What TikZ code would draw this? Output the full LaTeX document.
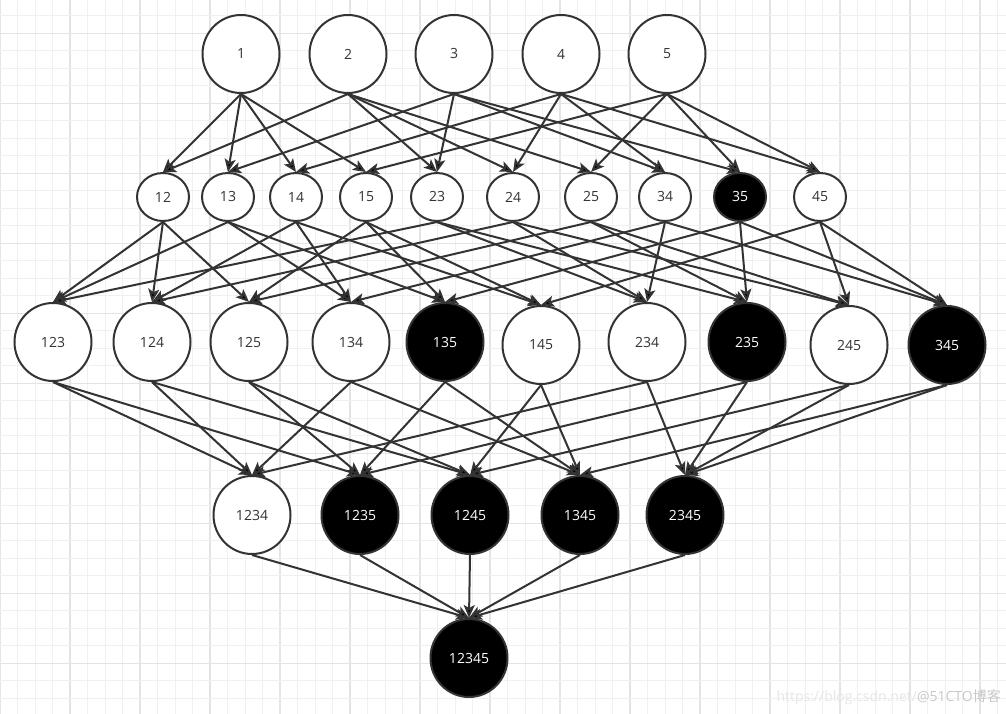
\documentclass[tikz,border=0pt]{standalone}
\usepackage{fontspec}
\setmainfont{Open Sans}
\newfontfamily\cjk{Noto Sans CJK SC}
\usetikzlibrary{arrows.meta,shapes.geometric}
\definecolor{ink}{HTML}{333333}
\definecolor{minorgrid}{HTML}{F0F0F0}
\definecolor{majorgrid}{HTML}{E4E4E4}
\tikzset{
    big/.style =    {ellipse,
                    fill=white,
                    draw=ink,
                    text=ink,
                    line width=2pt,
                    inner sep=0pt,
                    minimum width=77pt,
                    minimum height=78pt,
                    font=\fontsize{14}{16}\selectfont},
    small/.style =  {big,
                    minimum width=52pt,
                    minimum height=48pt},
    dark/.style =   {fill=black,
                    text=white},
    link/.style =   {draw=ink,
                    line width=2pt,
                    ->,
                    to path={(\tikztostart.south) -- (\tikztotarget.north)}},
    minorline/.style = {draw=minorgrid, line width=1pt},
    majorline/.style = {draw=majorgrid, line width=1.2pt},
    >={Stealth[length=13pt,width=11pt,inset=3pt]}}

\begin{document}
\begin{tikzpicture}[x=1pt,y=-1pt]
                \useasboundingbox[fill=white] (0,0) rectangle (1006,714);
                % background grid
                \foreach \k in {0,...,57} \draw[minorline] (17.5*\k,0) -- (17.5*\k,714);
                \foreach \k in {0,4,...,56} \draw[majorline] (17.5*\k,0) -- (17.5*\k,714);
                \foreach \k in {0,...,39} \draw[minorline] (0,15.8+17.5*\k) -- (1006,15.8+17.5*\k);
                \foreach \k in {1,5,...,37} \draw[majorline] (0,15.8+17.5*\k) -- (1006,15.8+17.5*\k);

                % singletons
                \node[big]          (s1)     at (241,54)  {1};
                \node[big]          (s2)     at (348,54)  {2};
                \node[big]          (s3)     at (454,54)  {3};
                \node[big]          (s4)     at (561,54)  {4};
                \node[big]          (s5)     at (667,54)  {5};

                % pairs
                \node[small]        (s12)    at (163,197) {12};
                \node[small]        (s13)    at (228,197) {13};
                \node[small]        (s14)    at (296,197) {14};
                \node[small]        (s15)    at (366,197) {15};
                \node[small]        (s23)    at (437,197) {23};
                \node[small]        (s24)    at (513,197) {24};
                \node[small]        (s25)    at (591,197) {25};
                \node[small]        (s34)    at (665,197) {34};
                \node[small,dark]   (s35)    at (740,197) {35};
                \node[small]        (s45)    at (820,197) {45};

                % triples
                \node[big]          (s123)   at (53,342)  {123};
                \node[big]          (s124)   at (152,342) {124};
                \node[big]          (s125)   at (249,342) {125};
                \node[big]          (s134)   at (351,342) {134};
                \node[big,dark]     (s135)   at (445,342) {135};
                \node[big]          (s145)   at (541,345) {145};
                \node[big]          (s234)   at (647,342) {234};
                \node[big,dark]     (s235)   at (747,342) {235};
                \node[big]          (s245)   at (849,345) {245};
                \node[big,dark]     (s345)   at (947,345) {345};

                % quadruples
                \node[big]          (s1234)  at (252,515) {1234};
                \node[big,dark]     (s1235)  at (360,515) {1235};
                \node[big,dark]     (s1245)  at (470,515) {1245};
                \node[big,dark]     (s1345)  at (580,515) {1345};
                \node[big,dark]     (s2345)  at (685,515) {2345};

                \node[big,dark]     (s12345) at (469,658) {12345};

                \path [link]    (s1) edge (s12) edge (s13) edge (s14) edge (s15)
                                (s2) edge (s12) edge (s23) edge (s24) edge (s25)
                                (s3) edge (s13) edge (s23) edge (s34) edge (s35)
                                (s4) edge (s14) edge (s24) edge (s34) edge (s45)
                                (s5) edge (s15) edge (s25) edge (s35) edge (s45);

                \path [link]    (s12) edge (s123) edge (s124) edge (s125)
                                (s13) edge (s123) edge (s134) edge (s135)
                                (s14) edge (s124) edge (s134) edge (s145)
                                (s15) edge (s125) edge (s135) edge (s145)
                                (s23) edge (s123) edge (s234) edge (s235)
                                (s24) edge (s124) edge (s234) edge (s245)
                                (s25) edge (s125) edge (s235) edge (s245)
                                (s34) edge (s134) edge (s234) edge (s345)
                                (s35) edge (s135) edge (s235) edge (s345)
                                (s45) edge (s145) edge (s245) edge (s345);

                \path [link]    (s123) edge (s1234) edge (s1235)
                                (s124) edge (s1234) edge (s1245)
                                (s125) edge (s1235) edge (s1245)
                                (s134) edge (s1234) edge (s1345)
                                (s135) edge (s1235) edge (s1345)
                                (s145) edge (s1245) edge (s1345)
                                (s234) edge (s1234) edge (s2345)
                                (s235) edge (s1235) edge (s2345)
                                (s245) edge (s1245) edge (s2345)
                                (s345) edge (s1345) edge (s2345);

                \path [link]    (s1234) edge (s12345)
                                (s1235) edge (s12345)
                                (s1245) edge (s12345)
                                (s1345) edge (s12345)
                                (s2345) edge (s12345);

                % watermark
                \node[anchor=east, inner sep=0pt, font=\fontsize{14}{16}\selectfont]
                    (wm) at (1001,697) {\textcolor[HTML]{E6E6E6}{https://blog.csdn.net/}\textcolor[HTML]{C8C8C8}{@51CTO{\cjk 博客}}};
        \end{tikzpicture}
\end{document}
